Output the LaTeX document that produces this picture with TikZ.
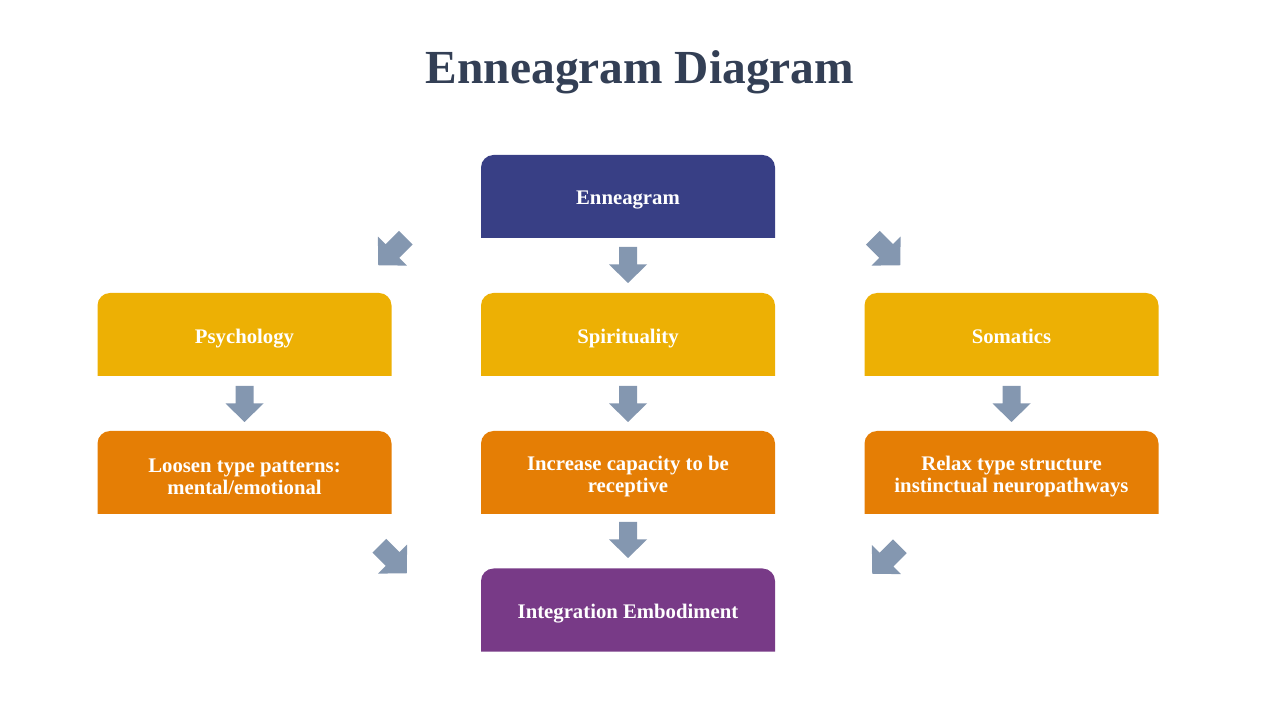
\documentclass[tikz,border=0pt]{standalone}
\usepackage{fontspec}
\setmainfont{Liberation Serif}
\usepackage{tikz}
\usetikzlibrary{positioning,calc}
\usepackage{xcolor}
\definecolor{titleslate}{HTML}{333F55}
\definecolor{enneanavy}{HTML}{383F85}
\definecolor{fieldgold}{HTML}{EDB004}
\definecolor{stepamber}{HTML}{E57E05}
\definecolor{unionplum}{HTML}{783A87}
\definecolor{flowsteel}{HTML}{8497B0}
\tikzset{
  tabbox/.style={minimum width=5.88cm,minimum height=1.82cm,inner sep=2pt,yshift=-0.08cm,
        align=center,text=white,font=\rmfamily\bfseries\fontsize{11.8}{12.6}\selectfont,
        path picture={\fill[#1,rounded corners=0.25cm]
          ($(path picture bounding box.south west)+(0,0.16)$) -- (path picture bounding box.north west)
          -- (path picture bounding box.north east) -- ($(path picture bounding box.south east)+(0,0.16)$);}},
}
% block arrow: [scale] x, y, angle (0 = pointing east)
\newcommand{\flowarrow}[4][1]{%
  \fill[flowsteel,shift={(#2,#3)},rotate=#4,scale=#1]
    (-0.36,0.18) -- (-0.01,0.18) -- (-0.01,0.38) -- (0.36,0)
    -- (-0.01,-0.38) -- (-0.01,-0.18) -- (-0.36,-0.18) -- cycle;
}

\begin{document}
\begin{tikzpicture}
  \useasboundingbox (0,0) rectangle (25.6,14.4);
  \node[text=titleslate,font=\rmfamily\bfseries\fontsize{27}{32}\selectfont]
        (title) at (12.8,12.96) {Enneagram Diagram};

  \node[tabbox=enneanavy] (ennea) at (12.56,10.47) {Enneagram};
  \node[tabbox=fieldgold] (psych) at (4.89,7.71) {Psychology};
  \node[tabbox=fieldgold] (spirit) at (12.56,7.71) {Spirituality};
  \node[tabbox=fieldgold] (somat) at (20.23,7.71) {Somatics\vphantom{y}};
  \node[tabbox=stepamber] (loosen) at (4.89,4.95) {Loosen type patterns:\\mental/emotional};
  \node[tabbox=stepamber] (receive) at (12.56,4.95) {Increase capacity to be\\receptive};
  \node[tabbox=stepamber] (relax) at (20.23,4.95) {Relax type structure\\instinctual neuropathways};
  \node[tabbox=unionplum] (integ) at (12.56,2.20) {Integration Embodiment};

  \foreach \x/\y in {12.56/9.10, 4.89/6.32, 12.56/6.32, 20.23/6.32, 12.56/3.60}
    {\flowarrow{\x}{\y}{-90}}
  \flowarrow[1.08]{7.84}{9.37}{-135}
  \flowarrow[1.08]{17.73}{9.37}{-45}
  \flowarrow[1.08]{7.86}{3.21}{-45}
  \flowarrow[1.08]{17.72}{3.20}{-135}
\end{tikzpicture}
\end{document}
